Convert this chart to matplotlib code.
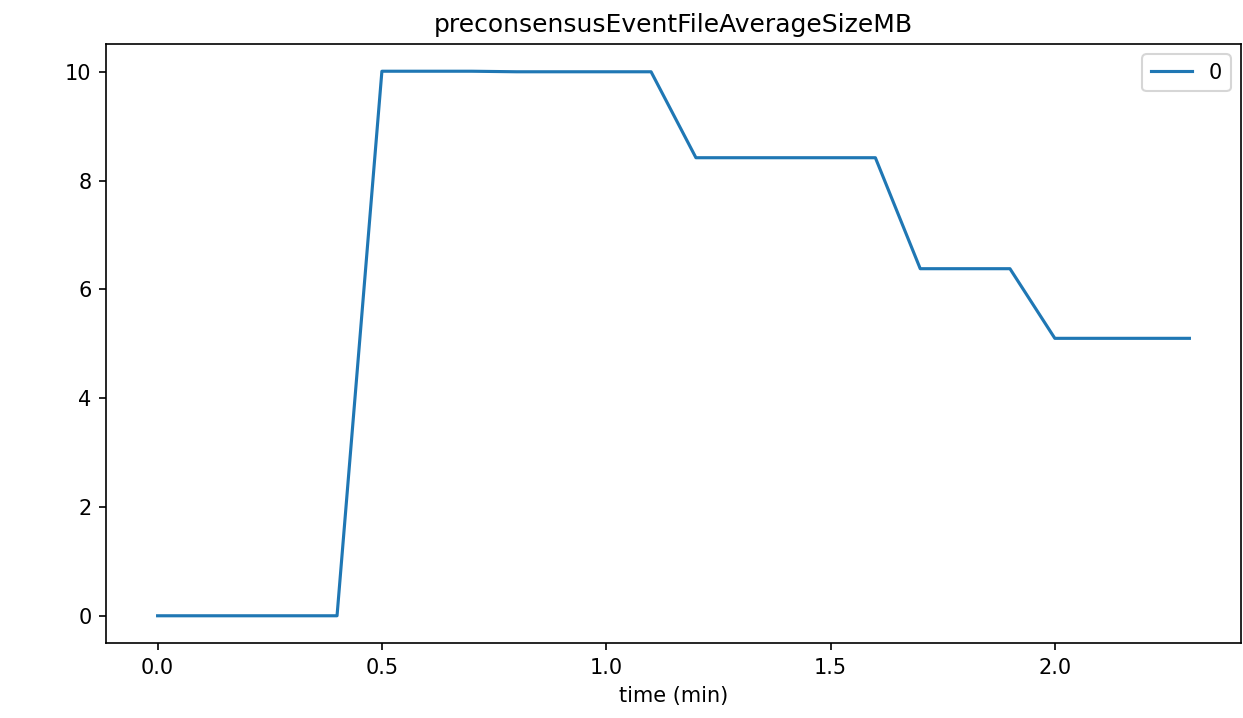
import matplotlib
matplotlib.use("Agg")
import matplotlib.pyplot as plt

time_min = [0.0, 0.1, 0.2, 0.3, 0.4, 0.5, 0.6, 0.7, 0.8, 0.9, 1.0, 1.1,
            1.2, 1.3, 1.4, 1.5, 1.6, 1.7, 1.8, 1.9, 2.0, 2.1, 2.2, 2.3]
values = [0, 0, 0, 0, 0, 10.01, 10.01, 10.01, 10.0, 10.0, 10.0, 10.0,
          8.42, 8.42, 8.42, 8.42, 8.42, 6.38, 6.38, 6.38, 5.1, 5.1, 5.1, 5.1]

W, H = 1243, 718
fig = plt.figure(figsize=(W/150, H/150), dpi=150)
ax = fig.add_axes([106/W, 1-643/H, (1241-106)/W, (643-44)/H])
ax.plot(time_min, values, color="#1f77b4", linewidth=1.5, label="0")
ax.set_title("preconsensusEventFileAverageSizeMB")
ax.set_xlabel("time (min)")
ax.set_xticks([0.0, 0.5, 1.0, 1.5, 2.0])
ax.set_yticks([0, 2, 4, 6, 8, 10])
ax.legend(loc="upper right")
fig.savefig("out.png", dpi=150)
